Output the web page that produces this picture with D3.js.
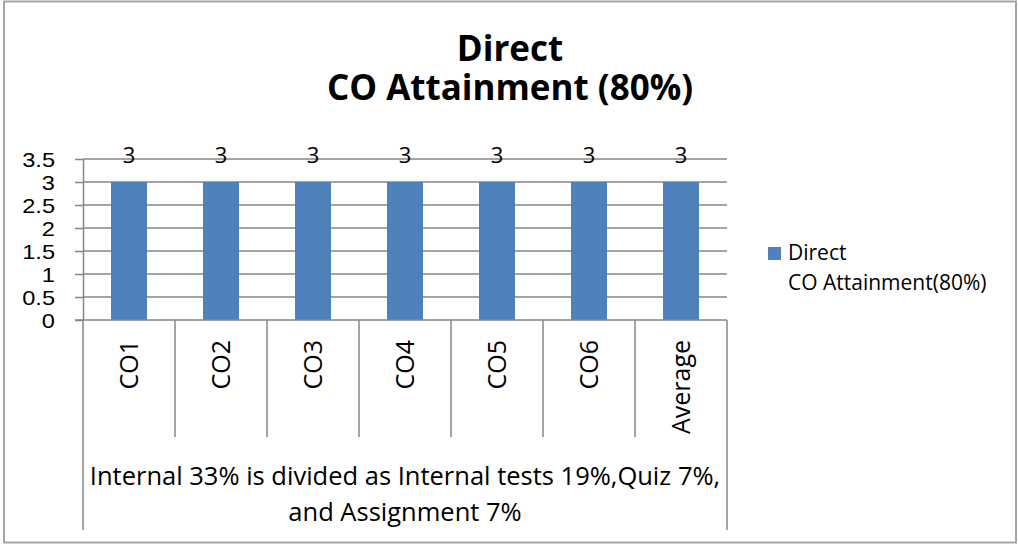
<!DOCTYPE html>
<html>
<head>
<meta charset="utf-8">
<script src="https://cdn.jsdelivr.net/npm/d3@7"></script>
<style>
  body { margin: 0; background: #fff; }
  svg { display: block; font-family: "Open Sans", Lato, sans-serif; }
</style>
</head>
<body>
<div id="chart"></div>
<script>
const categories = ["CO1", "CO2", "CO3", "CO4", "CO5", "CO6", "Average"];
const values = [3, 3, 3, 3, 3, 3, 3];
const yTicks = [0, 0.5, 1, 1.5, 2, 2.5, 3, 3.5];
const titleLines = ["Direct", "CO Attainment (80%)"];
const legendLines = ["Direct", "CO Attainment(80%)"];
const groupLines = ["Internal 33% is divided as Internal tests 19%,Quiz 7%,", "and Assignment 7%"];

const W = 1018, H = 545;
const plot = { left: 83, right: 727, top: 159, bottom: 320 };
const grey = "#868686";
const blue = "#4F81BD";

const svg = d3.select("#chart").append("svg")
  .attr("width", W)
  .attr("height", H);

// outer frame
svg.append("rect")
  .attr("x", 4).attr("y", 1.5)
  .attr("width", 1012).attr("height", 541)
  .attr("fill", "#fff")
  .attr("stroke", "#a6a6a6")
  .attr("stroke-width", 2);

// Scales
const y = d3.scaleLinear()
  .domain([0, 3.5])
  .range([plot.bottom, plot.top]);

const x = d3.scaleBand()
  .domain(categories)
  .range([plot.left, plot.right])
  .paddingInner(0.6087)
  .paddingOuter(0.3043);

const slot = d3.scaleBand()
  .domain(categories)
  .range([plot.left, plot.right]);

// gridlines
svg.append("g")
  .selectAll("line")
  .data(yTicks.filter(d => d > 0))
  .join("line")
  .attr("x1", plot.left).attr("x2", plot.right)
  .attr("y1", d => y(d)).attr("y2", d => y(d))
  .attr("stroke", grey)
  .attr("stroke-width", 1.5);

// Y axis
const yAxis = svg.append("g")
  .attr("transform", `translate(${plot.left},0)`)
  .call(d3.axisLeft(y).tickValues(yTicks).tickSize(8).tickSizeOuter(0).tickFormat(d3.format("")));
yAxis.select(".domain").attr("stroke", grey).attr("stroke-width", 1.5);
yAxis.selectAll(".tick line").attr("stroke", grey).attr("stroke-width", 1.5);
// labels in the reference are wide and squat
yAxis.selectAll(".tick text")
  .attr("x", 0)
  .attr("dy", "0.36em")
  .attr("transform", "translate(-28,0) scale(1.18,1)")
  .style("font-size", "20px")
  .attr("fill", "#000");

// Bars
svg.selectAll(".bar")
  .data(values)
  .join("rect")
  .attr("class", "bar")
  .attr("x", (d, i) => x(categories[i]))
  .attr("width", x.bandwidth())
  .attr("y", d => y(d))
  .attr("height", d => y(0) - y(d))
  .attr("fill", blue);

// data labels
svg.selectAll(".lbl")
  .data(values)
  .join("text")
  .attr("class", "lbl")
  .attr("x", (d, i) => x(categories[i]) + x.bandwidth() / 2)
  .attr("y", d => y(d) - 19)
  .attr("text-anchor", "middle")
  .style("font-size", "22px")
  .text(d => d);

// X axis line
svg.append("line")
  .attr("x1", plot.left - 8).attr("x2", plot.right)
  .attr("y1", plot.bottom).attr("y2", plot.bottom)
  .attr("stroke", grey).attr("stroke-width", 1.5);

// category separators
const bounds = categories.map(c => slot(c)).concat([plot.right]);
svg.append("g")
  .selectAll("line")
  .data(bounds)
  .join("line")
  .attr("x1", d => d).attr("x2", d => d)
  .attr("y1", plot.bottom)
  .attr("y2", (d, i) => (i === 0 || i === bounds.length - 1) ? 530 : 437)
  .attr("stroke", grey)
  .attr("stroke-width", 1.5);

// category labels
svg.selectAll(".cat")
  .data(categories)
  .join("text")
  .attr("class", "cat")
  .attr("transform", d => `translate(${slot(d) + slot.bandwidth() / 2 + 9},340) rotate(-90)`)
  .attr("text-anchor", "end")
  .style("font-size", "25px")
  .text(d => d);

// group label
svg.selectAll(".grp")
  .data(groupLines)
  .join("text")
  .attr("class", "grp")
  .attr("x", (plot.left + plot.right) / 2)
  .attr("y", (d, i) => 485 + i * 36)
  .attr("text-anchor", "middle")
  .style("font-size", "25.5px")
  .text(d => d);

// Title
svg.selectAll(".ttl")
  .data(titleLines)
  .join("text")
  .attr("class", "ttl")
  .attr("x", 510)
  .attr("y", (d, i) => 61 + i * 39)
  .attr("text-anchor", "middle")
  .style("font-size", "35px")
  .style("font-weight", "bold")
  .text(d => d);

// Legend
svg.append("rect")
  .attr("x", 768).attr("y", 247)
  .attr("width", 13).attr("height", 13)
  .attr("fill", blue);

svg.selectAll(".leg")
  .data(legendLines)
  .join("text")
  .attr("class", "leg")
  .attr("x", 788)
  .attr("y", (d, i) => 260 + i * 30)
  .style("font-size", "21px")
  .text(d => d);
</script>
</body>
</html>
